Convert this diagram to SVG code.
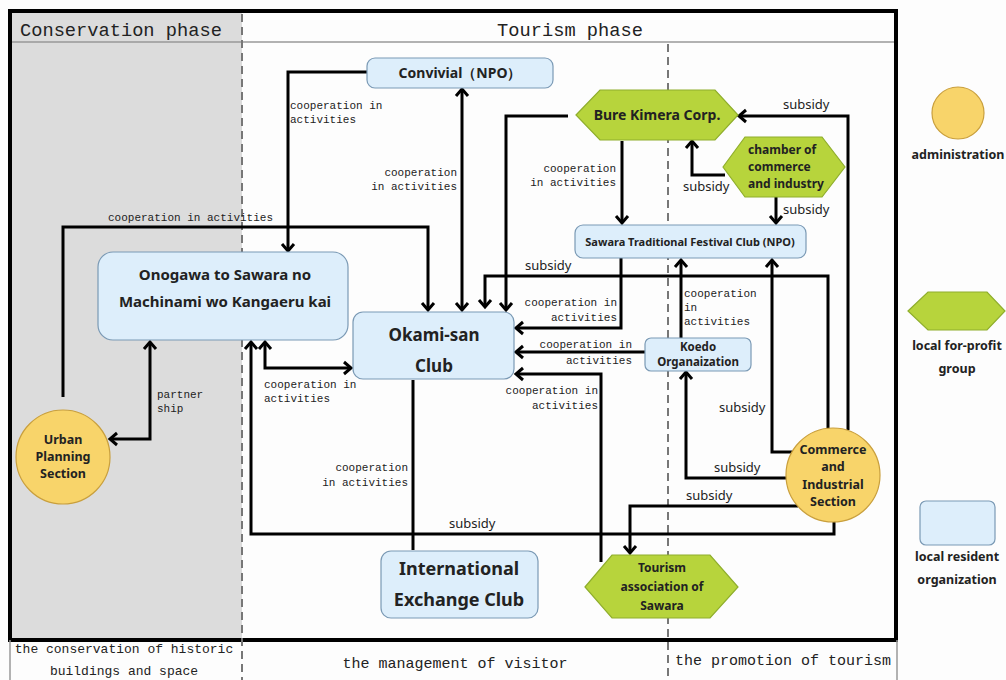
<svg xmlns="http://www.w3.org/2000/svg" width="1006" height="680" viewBox="0 0 1006 680">
<style>
.org{fill:#ddeefb;stroke:#7b9ab5;stroke-width:1.2}
.grp{fill:#b7d43c;stroke:#8fae2c;stroke-width:1.2}
.adm{fill:#f8d46a;stroke:#c99f3c;stroke-width:1.2}
.nt{font-family:"Noto Sans","Open Sans",sans-serif;font-weight:bold;fill:#222;text-anchor:middle}
.nts{font-family:"Noto Sans","Open Sans",sans-serif;font-weight:bold;fill:#222;text-anchor:start}
.lb{font-family:"Liberation Mono","DejaVu Sans Mono",monospace;font-size:11px;fill:#222}
.sb{font-family:"Noto Sans","Open Sans",sans-serif;font-size:13px;fill:#222}
.hd{font-family:"Liberation Mono","DejaVu Sans Mono",monospace;fill:#222}
.c{fill:none;stroke:#000;stroke-width:3}
.dash{stroke:#777;stroke-width:2;stroke-dasharray:8 5;fill:none}
</style>
<defs>
<marker id="ar" markerUnits="userSpaceOnUse" markerWidth="16" markerHeight="16" viewBox="0 0 16 16" refX="13" refY="8" orient="auto-start-reverse">
<path d="M6,2 L13,8 L6,14" fill="none" stroke="#000" stroke-width="3"/>
</marker>
</defs>
<rect x="0" y="0" width="1006" height="680" fill="#fdfdfd"/>
<g id="frame">
<rect x="10" y="11" width="232" height="629" fill="#dcdcdc"/>
<line x1="10" y1="42" x2="896" y2="42" stroke="#999" stroke-width="1.5"/>
<rect x="10" y="11" width="886" height="629" fill="none" stroke="#000" stroke-width="4"/>
<line x1="10" y1="640" x2="10" y2="680" stroke="#999" stroke-width="1.5"/>
<line x1="897" y1="640" x2="897" y2="680" stroke="#999" stroke-width="1.5"/>
<line class="dash" x1="242" y1="14" x2="242" y2="680"/>
<line class="dash" x1="668" y1="44" x2="668" y2="680"/>
<text class="hd" x="20" y="36" font-size="18.7">Conservation phase</text>
<text class="hd" x="570" y="36" font-size="18.7" text-anchor="middle">Tourism phase</text>
<text class="hd" x="124" y="653" font-size="13" text-anchor="middle">the conservation of historic</text>
<text class="hd" x="124" y="675" font-size="13" text-anchor="middle">buildings and space</text>
<text class="hd" x="455" y="668" font-size="15" text-anchor="middle">the management of visitor</text>
<text class="hd" x="783" y="665" font-size="15" text-anchor="middle">the promotion of tourism</text>
</g>
<g id="connectors">
<path class="c" d="M367,72 H288 V251" marker-end="url(#ar)"/>
<path class="c" d="M462,89 V310" marker-start="url(#ar)" marker-end="url(#ar)"/>
<path class="c" d="M63,397 V227 H428 V310" marker-end="url(#ar)"/>
<path class="c" d="M110,439 H150 V342" marker-start="url(#ar)" marker-end="url(#ar)"/>
<path class="c" d="M265,342 V368 H351" marker-start="url(#ar)" marker-end="url(#ar)"/>
<path class="c" d="M834,520 V534 H251 V342" marker-end="url(#ar)"/>
<path class="c" d="M568,116 H506 V310" marker-end="url(#ar)"/>
<path class="c" d="M622,141 V223" marker-end="url(#ar)"/>
<path class="c" d="M725,175 H692 V141" marker-end="url(#ar)"/>
<path class="c" d="M776,197 V223" marker-end="url(#ar)"/>
<path class="c" d="M848,430 V116 H739" marker-end="url(#ar)"/>
<path class="c" d="M828,429 V276 H485 V307" marker-end="url(#ar)"/>
<path class="c" d="M621,258 V328 H516" marker-end="url(#ar)"/>
<path class="c" d="M645,352 H516" marker-end="url(#ar)"/>
<path class="c" d="M681,338 V260" marker-end="url(#ar)"/>
<path class="c" d="M794,452 H772 V260" marker-end="url(#ar)"/>
<path class="c" d="M788,478 H686 V372" marker-end="url(#ar)"/>
<path class="c" d="M798,506 H630 V553" marker-end="url(#ar)"/>
<path class="c" d="M601,562 V374 H516" marker-end="url(#ar)"/>
<path class="c" d="M413,380 V550"/>
<text class="lb" x="290" y="109">cooperation in</text>
<text class="lb" x="290" y="123">activities</text>
<text class="lb" x="457" y="176" text-anchor="end">cooperation</text>
<text class="lb" x="457" y="190" text-anchor="end">in activities</text>
<text class="lb" x="108" y="221">cooperation in activities</text>
<text class="lb" x="157" y="398">partner</text>
<text class="lb" x="157" y="412">ship</text>
<text class="lb" x="264" y="388">cooperation in</text>
<text class="lb" x="264" y="402">activities</text>
<text class="sb" x="449" y="528">subsidy</text>
<text class="lb" x="616" y="172" text-anchor="end">cooperation</text>
<text class="lb" x="616" y="186" text-anchor="end">in activities</text>
<text class="sb" x="683" y="191">subsidy</text>
<text class="sb" x="783" y="214">subsidy</text>
<text class="sb" x="783" y="109">subsidy</text>
<text class="sb" x="525" y="270">subsidy</text>
<text class="lb" x="617" y="306" text-anchor="end">cooperation in</text>
<text class="lb" x="617" y="321" text-anchor="end">activities</text>
<text class="lb" x="632" y="348" text-anchor="end">cooperation in</text>
<text class="lb" x="632" y="364" text-anchor="end">activities</text>
<text class="lb" x="684" y="297">cooperation</text>
<text class="lb" x="684" y="311">in</text>
<text class="lb" x="684" y="325">activities</text>
<text class="sb" x="719" y="412">subsidy</text>
<text class="sb" x="714" y="472">subsidy</text>
<text class="sb" x="686" y="500">subsidy</text>
<text class="lb" x="598" y="394" text-anchor="end">cooperation in</text>
<text class="lb" x="598" y="409" text-anchor="end">activities</text>
<text class="lb" x="408" y="471" text-anchor="end">cooperation</text>
<text class="lb" x="408" y="486" text-anchor="end">in activities</text>
</g>
<g id="convivial">
<rect class="org" x="367" y="58" width="186" height="30" rx="8"/>
<text class="nt" x="460" y="78" font-size="14">Convivial（NPO）</text>
</g>
<g id="bure">
<polygon class="grp" points="576,115 600,90 715,90 738,115 715,140 600,140"/>
<text class="nt" x="657" y="120" font-size="14">Bure Kimera Corp.</text>
</g>
<g id="chamber">
<polygon class="grp" points="723,167 745,137 822,137 845,167 822,197 745,197"/>
<text class="nts" x="748" y="154" font-size="12">chamber of</text>
<text class="nts" x="748" y="171" font-size="12">commerce</text>
<text class="nts" x="748" y="188" font-size="12">and industry</text>
</g>
<g id="festival">
<rect class="org" x="575" y="225" width="231" height="33" rx="8"/>
<text class="nt" x="690" y="246" font-size="11">Sawara Traditional Festival Club (NPO)</text>
</g>
<g id="onogawa">
<rect class="org" x="98" y="252" width="250" height="88" rx="15"/>
<text class="nt" x="225" y="280" font-size="15">Onogawa to Sawara no</text>
<text class="nt" x="225" y="307" font-size="15">Machinami wo Kangaeru kai</text>
</g>
<g id="okami">
<rect class="org" x="353" y="312" width="161" height="67" rx="10"/>
<text class="nt" x="434" y="341" font-size="17">Okami-san</text>
<text class="nt" x="434" y="372" font-size="17">Club</text>
</g>
<g id="koedo">
<rect class="org" x="645" y="338" width="106" height="33" rx="6"/>
<text class="nt" x="698" y="351" font-size="11.5">Koedo</text>
<text class="nt" x="698" y="366" font-size="11.5">Organaization</text>
</g>
<g id="international">
<rect class="org" x="381" y="551" width="157" height="67" rx="10"/>
<text class="nt" x="459" y="575" font-size="18">International</text>
<text class="nt" x="459" y="606" font-size="18">Exchange Club</text>
</g>
<g id="tourism">
<polygon class="grp" points="585,587 612,555 710,555 738,587 710,618 612,618"/>
<text class="nt" x="662" y="572" font-size="12">Tourism</text>
<text class="nt" x="662" y="591" font-size="12">association of</text>
<text class="nt" x="662" y="610" font-size="12">Sawara</text>
</g>
<g id="urban">
<circle class="adm" cx="63" cy="457" r="47"/>
<text class="nt" x="63" y="444" font-size="12.5">Urban</text>
<text class="nt" x="63" y="461" font-size="12.5">Planning</text>
<text class="nt" x="63" y="478" font-size="12.5">Section</text>
</g>
<g id="commerce">
<circle class="adm" cx="833" cy="475" r="47"/>
<text class="nt" x="833" y="454" font-size="12.5">Commerce</text>
<text class="nt" x="833" y="471" font-size="12.5">and</text>
<text class="nt" x="833" y="489" font-size="12.5">Industrial</text>
<text class="nt" x="833" y="506" font-size="12.5">Section</text>
</g>
<g id="legend">
<circle class="adm" cx="958" cy="113" r="26"/>
<text class="nt" x="958" y="159" font-size="12.5">administration</text>
<polygon class="grp" points="908,311 928,292 987,292 1005,311 987,330 928,330"/>
<text class="nt" x="957" y="350" font-size="12.5">local for-profit</text>
<text class="nt" x="957" y="373" font-size="12.5">group</text>
<rect class="org" x="920" y="501" width="75" height="44" rx="6"/>
<text class="nt" x="957" y="561" font-size="12.5">local resident</text>
<text class="nt" x="957" y="584" font-size="12.5">organization</text>
</g>
</svg>
